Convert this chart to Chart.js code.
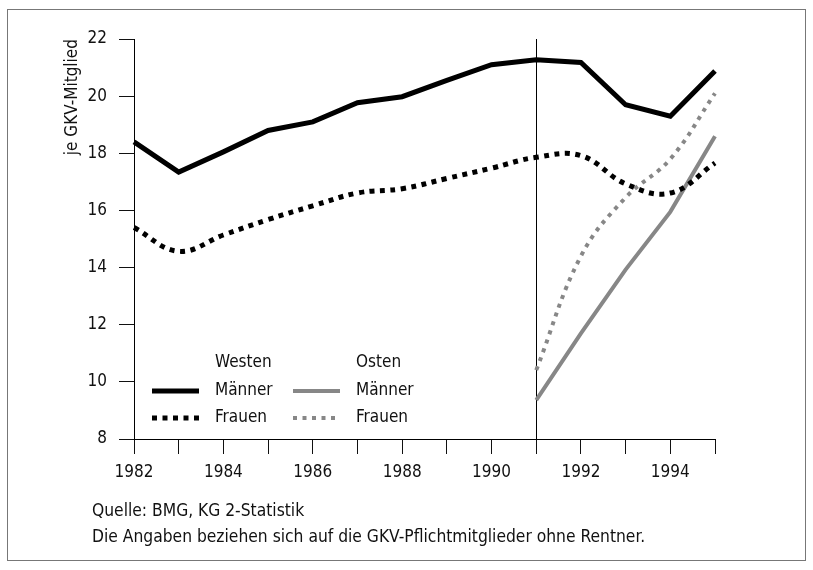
<!DOCTYPE html>
<html>
<head>
<meta charset="utf-8">
<script src="https://cdn.jsdelivr.net/npm/chart.js@4/dist/chart.umd.min.js"></script>
<style>
  html, body { margin: 0; padding: 0; background: #fff; }
  #wrap { position: relative; width: 813px; height: 570px; overflow: hidden; }
  #frame { position: absolute; left: 7px; top: 9px; width: 799px; height: 552px; border: 1px solid #777; box-sizing: border-box; }
  #cv { position: absolute; left: 0; top: 0; }
  .note { position: absolute; left: 92px; font: 17.3px 'DejaVu Sans Condensed', 'DejaVu Sans', sans-serif; color: #111; line-height: 20px; white-space: nowrap; }
</style>
</head>
<body>
<div id="wrap">
  <div id="frame"></div>
  <canvas id="cv" width="813" height="570"></canvas>
  <div class="note" style="top:500px">Quelle: BMG, KG 2-Statistik</div>
  <div class="note" style="top:526px">Die Angaben beziehen sich auf die GKV-Pflichtmitglieder ohne Rentner.</div>
</div>
<script>
// ---- data ----
const years = [1982, 1983, 1984, 1985, 1986, 1987, 1988, 1989, 1990, 1991, 1992, 1993, 1994, 1995];
const westMen   = [18.4, 17.34, 18.05, 18.8, 19.1, 19.77, 19.98, 20.55, 21.1, 21.27, 21.18, 19.7, 19.3, 20.88];
const westWomen = [15.4, 14.57, 15.14, 15.68, 16.16, 16.61, 16.76, 17.12, 17.48, 17.86, 17.92, 16.93, 16.61, 17.66];
const eastMen   = [null, null, null, null, null, null, null, null, null, 9.36, 11.7, 13.93, 15.95, 18.6];
const eastWomen = [null, null, null, null, null, null, null, null, null, 10.41, 14.4, 16.45, 17.8, 20.1];
const yTicks = [8, 10, 12, 14, 16, 18, 20, 22];
const markerYear = 1991;
const legendGroups = ['Westen', 'Osten'];
const legendRows = ['Männer', 'Frauen'];

const FONT = "'DejaVu Sans Condensed', 'DejaVu Sans', sans-serif";
const FSIZE = 17;
Chart.defaults.font.family = FONT;
Chart.defaults.font.size = FSIZE;
Chart.defaults.color = '#111';

const BLACK = '#000';
const GREY = '#878787';

const extras = {
  id: 'extras',
  beforeDatasetsDraw(chart) {
    const {ctx, chartArea, scales: {x}} = chart;
    const px = x.getPixelForValue(years.indexOf(markerYear));
    ctx.save();
    ctx.strokeStyle = '#000';
    ctx.lineWidth = 1;
    ctx.beginPath();
    ctx.moveTo(Math.round(px) + 0.5, chartArea.top);
    ctx.lineTo(Math.round(px) + 0.5, chartArea.bottom);
    ctx.stroke();
    ctx.restore();
  },
  afterDatasetsDraw(chart) {
    const {ctx, chartArea} = chart;
    const ds = chart.data.datasets;
    const baseX = chartArea.left + 18;
    const colW = 141;
    const headY = 363, rowY = [391, 418];
    ctx.save();
    ctx.font = FSIZE + 'px ' + FONT;
    ctx.fillStyle = '#111';
    ctx.textBaseline = 'middle';
    ctx.textAlign = 'left';
    for (let g = 0; g < 2; g++) {
      const x0 = baseX + g * colW;
      ctx.fillText(legendGroups[g], x0 + 63, headY);
      for (let r = 0; r < 2; r++) {
        const d = ds[g * 2 + r];
        ctx.save();
        ctx.strokeStyle = d.borderColor;
        ctx.lineWidth = d.borderWidth;
        ctx.lineCap = 'butt';
        ctx.setLineDash(d.borderDash || []);
        ctx.beginPath();
        ctx.moveTo(x0, rowY[r]);
        ctx.lineTo(x0 + 47, rowY[r]);
        ctx.stroke();
        ctx.restore();
        ctx.fillText(legendRows[r], x0 + 63, rowY[r]);
      }
    }
    ctx.restore();
  }
};

new Chart(document.getElementById('cv'), {
  type: 'line',
  data: {
    labels: years,
    datasets: [
      { label: 'Westen Männer', data: westMen, borderColor: BLACK, borderWidth: 5, tension: 0, pointRadius: 0 },
      { label: 'Westen Frauen', data: westWomen, borderColor: BLACK, borderWidth: 5, borderDash: [5, 5.5], tension: 0.4, pointRadius: 0 },
      { label: 'Osten Männer', data: eastMen, borderColor: GREY, borderWidth: 4, tension: 0, pointRadius: 0 },
      { label: 'Osten Frauen', data: eastWomen, borderColor: GREY, borderWidth: 4, borderDash: [4, 5.5], tension: 0.4, pointRadius: 0 }
    ]
  },
  options: {
    responsive: false,
    animation: false,
    events: [],
    layout: { padding: { left: 0, top: 39, right: 98, bottom: 81 } },
    plugins: { legend: { display: false }, tooltip: { enabled: false } },
    scales: {
      x: {
        type: 'category',
        offset: false,
        grid: { drawOnChartArea: false, drawTicks: true, tickLength: 15, color: '#111' },
        border: { display: true, color: '#000', width: 1 },
        ticks: {
          autoSkip: false, maxRotation: 0, padding: 8, color: '#111',
          callback(v) { const y = years[v]; return y % 2 === 0 ? String(y) : ''; }
        },
        afterFit(s) { s.height = 50; }
      },
      y: {
        min: yTicks[0], max: yTicks[yTicks.length - 1],
        afterBuildTicks(s) { s.ticks = yTicks.map(v => ({ value: v })); },
        grid: { drawOnChartArea: false, drawTicks: true, tickLength: 15, color: '#111' },
        border: { display: true, color: '#000', width: 1 },
        ticks: { padding: 12, color: '#111' },
        title: { display: true, text: 'je GKV-Mitglied', align: 'end', padding: { top: 62, bottom: 0 }, color: '#111', font: { size: FSIZE } },
        afterFit(s) { s.width = 134; }
      }
    }
  },
  plugins: [extras]
});
</script>
</body>
</html>
